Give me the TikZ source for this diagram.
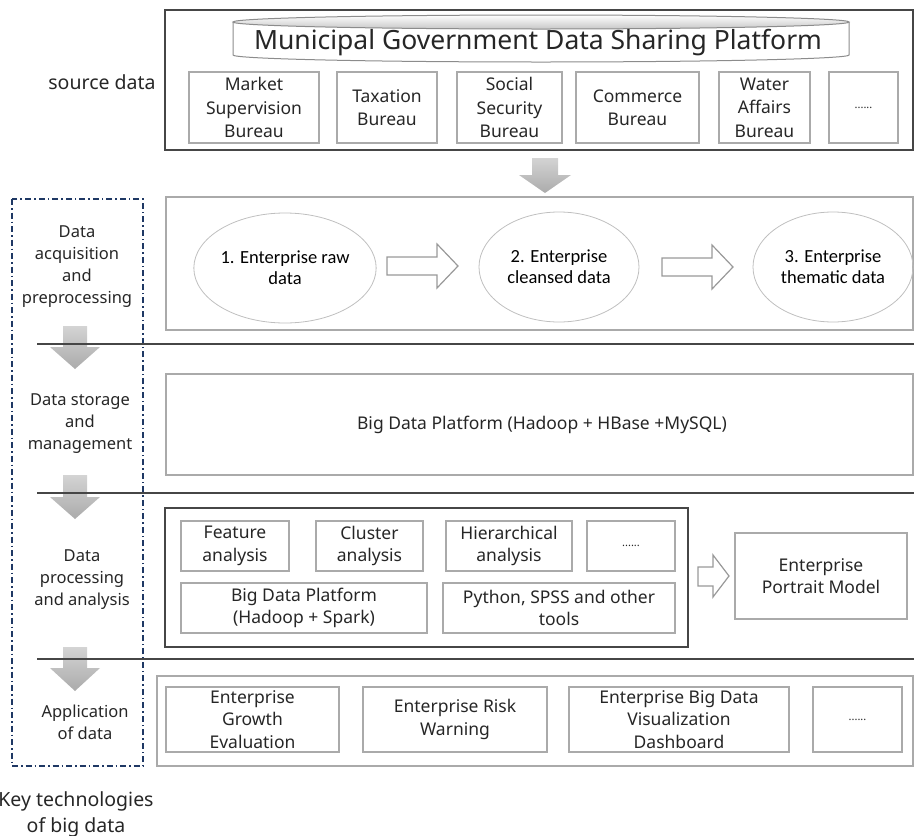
\documentclass[tikz,border=0pt]{standalone}
\usepackage{fontspec}
\setmainfont{Noto Sans}
\newfontfamily\calfont{Carlito}
\usepackage{tikz}
\usetikzlibrary{shapes.geometric}

\definecolor{boxgray}{RGB}{170,170,170}
\definecolor{darkline}{RGB}{70,70,70}
\definecolor{navy}{RGB}{31,56,100}
\definecolor{txtgray}{RGB}{38,38,38}

\tikzset{
  lbl/.style={align=center, inner sep=0pt, text=txtgray, font=\fontsize{16.5}{22}\selectfont},
  biglbl/.style={align=center, inner sep=0pt, text=txtgray, font=\fontsize{19.5}{26}\selectfont},
  inbox/.style={draw=boxgray, line width=1.2pt, align=center, inner sep=0pt, text=txtgray,
                font=\fontsize{17.5}{22.5}\selectfont},
  sect/.style={draw=boxgray, line width=1.5pt},
  outer/.style={draw=darkline, line width=1.2pt},
  ell/.style={ellipse, draw=black!25, line width=0.8pt, inner sep=0pt, align=center,
              font=\calfont\fontsize{18.5}{21}\selectfont},
  grayarrow/.style={top color=black!17, bottom color=black!33, draw=none},
  hollow/.style={draw=black!40, fill=white, line width=1.2pt, line join=miter},
  sepline/.style={draw=darkline, line width=1.5pt},
  dots/.style={font=\fontsize{11}{13}\selectfont}
}

\begin{document}
\begin{tikzpicture}[x=1pt,y=-1pt]
  \useasboundingbox (0,0) rectangle (914,836);

  % source data
  \draw[outer] (165,10) rectangle (913,150);
  \draw[draw=black!45, fill=white, line width=1pt] (233,22) -- (233,55)
      arc[start angle=180, end angle=0, x radius=308, y radius=7] -- (849,22);
  \draw[draw=black!45, line width=1pt, top color=white, bottom color=black!22]
      (541,22) ellipse [x radius=308, y radius=7];
  \node[inner sep=0pt, text=txtgray, font=\fontsize{26.5}{30}\selectfont] (platform) at (538,43)
      {Municipal Government Data Sharing Platform};
  \node[biglbl] (src) at (102,82) {source data};

  \node[inbox, font=\fontsize{17.5}{23.5}\selectfont, minimum width=130pt, minimum height=71pt] (market) at (254,107.5) {Market\\Supervision\\Bureau};
  \node[inbox, minimum width=100pt, minimum height=71pt] (tax) at (387,107.5) {Taxation\\Bureau};
  \node[inbox, font=\fontsize{17.5}{23.5}\selectfont, minimum width=105pt, minimum height=71pt] (social) at (509.5,107.5) {Social\\Security\\Bureau};
  \node[inbox, minimum width=123pt, minimum height=71pt] (commerce) at (637.5,107.5) {Commerce\\Bureau};
  \node[inbox, font=\fontsize{17.5}{23.5}\selectfont, minimum width=91pt, minimum height=71pt] (water) at (764.5,107.5) {Water\\Affairs\\Bureau};
  \node[inbox, dots, minimum width=69pt, minimum height=71pt] (more1) at (863.5,107.5) {......};

  \draw[grayarrow] (532,158) -- (558,158) -- (558,175) -- (571,175) -- (545,193)
      -- (519,175) -- (532,175) -- cycle;

  % key technologies frame
  \draw[navy, line width=1.4pt, dash pattern=on 6pt off 3pt on 1.5pt off 3pt] (12,199) rectangle (143,766);

  % acquisition
  \draw[sect] (166,197) rectangle (913,330);
  \node[ell, minimum width=160pt, minimum height=110pt] (raw) at (285,268) {1. Enterprise raw\\data};
  \node[ell, minimum width=160pt, minimum height=110pt] (clean) at (559,267) {2. Enterprise\\cleansed data};
  \node[ell, minimum width=160pt, minimum height=110pt] (theme) at (833,267) {3. Enterprise\\thematic data};
  \draw[hollow] (387,257) -- (437,257) -- (437,244) -- (458,266) -- (437,288)
      -- (437,275) -- (387,275) -- cycle;
  \draw[hollow] (662,258) -- (712,258) -- (712,245) -- (733,267) -- (712,289)
      -- (712,276) -- (662,276) -- cycle;
  \node[lbl] (acq) at (77,266.5) {Data\\acquisition\\and\\preprocessing};

  \draw[grayarrow] (63,326) -- (87,326) -- (87,347) -- (100,347) -- (75,369)
      -- (50,347) -- (63,347) -- cycle;
  \draw[sepline] (37,344) -- (914,344);

  % storage
  \draw[sect] (166,374) rectangle (913,475);
  \node[lbl, font=\fontsize{17.5}{22}\selectfont] (hbase) at (542,425) {Big Data Platform (Hadoop + HBase +MySQL)};
  \node[lbl] (store) at (80,424) {Data storage\\and\\management};

  \draw[grayarrow] (63,475) -- (87,475) -- (87,497) -- (100,497) -- (75,519)
      -- (50,497) -- (63,497) -- cycle;
  \draw[sepline] (37,493) -- (914,493);

  % processing
  \draw[outer] (165,508) rectangle (688,647);
  \node[inbox, minimum width=108pt, minimum height=50pt] (feature) at (235,546) {Feature\\analysis};
  \node[inbox, minimum width=107pt, minimum height=50pt] (cluster) at (369.5,546) {Cluster\\analysis};
  \node[inbox, minimum width=126pt, minimum height=50pt] (hier) at (509,546) {Hierarchical\\analysis};
  \node[inbox, dots, minimum width=88pt, minimum height=50pt] (more2) at (631,546) {......};
  \node[inbox, minimum width=246pt, minimum height=50pt] (spark) at (304,608) {Big Data Platform\\(Hadoop + Spark)};
  \node[inbox, minimum width=232pt, minimum height=50pt] (tools) at (559,608) {Python, SPSS and other\\tools};
  \draw[hollow] (698,567) -- (713,567) -- (713,555) -- (729,576) -- (713,597)
      -- (713,586) -- (698,586) -- cycle;
  \node[inbox, minimum width=172pt, minimum height=86pt] (portrait) at (821,576) {Enterprise\\Portrait Model};
  \node[lbl] (proc) at (82,580) {Data\\processing\\and analysis};

  \draw[grayarrow] (63,647) -- (87,647) -- (87,668) -- (100,668) -- (75,691)
      -- (50,668) -- (63,668) -- cycle;
  \draw[sepline] (37,659) -- (914,659);

  % application
  \draw[sect] (157,676) rectangle (913,766);
  \node[inbox, minimum width=173pt, minimum height=65pt] (growth) at (252.5,719.5) {Enterprise\\Growth\\Evaluation};
  \node[inbox, minimum width=184pt, minimum height=65pt] (risk) at (455,719.5) {Enterprise Risk\\Warning};
  \node[inbox, minimum width=220pt, minimum height=65pt] (dashboard) at (679,719.5) {Enterprise Big Data\\Visualization\\Dashboard};
  \node[inbox, dots, minimum width=89pt, minimum height=65pt] (more3) at (857.5,719.5) {......};
  \node[lbl] (app) at (85,722.5) {Application\\of data};

  \node[biglbl] (keytech) at (76,814) {Key technologies\\of big data};
\end{tikzpicture}
\end{document}
